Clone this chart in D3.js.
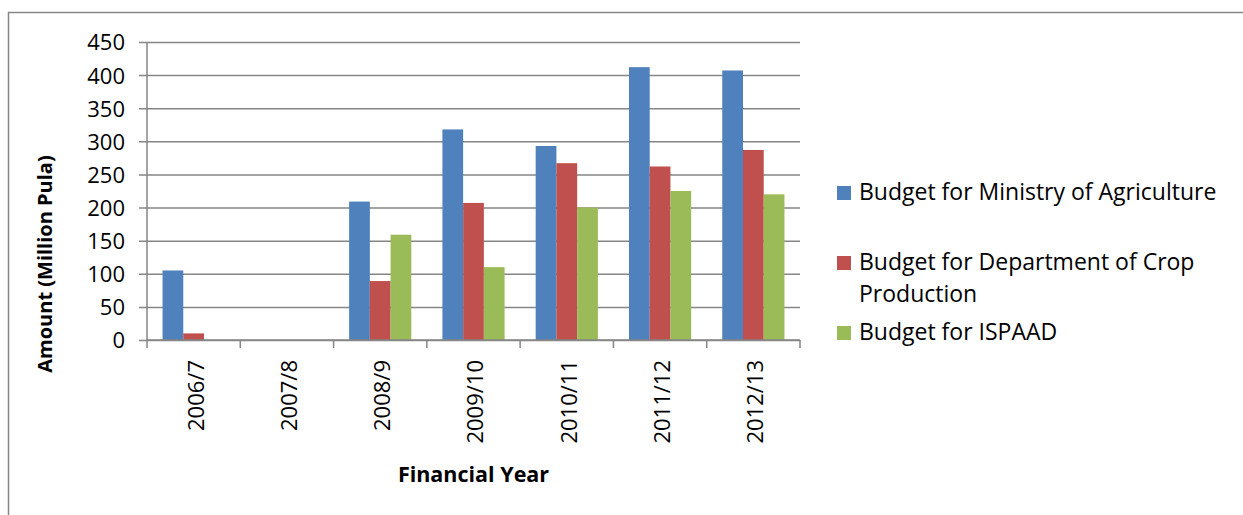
<!DOCTYPE html>
<html>
<head>
<meta charset="utf-8">
<script src="https://cdn.jsdelivr.net/npm/d3@7"></script>
<style>
  body { margin: 0; background: #fff; }
  text { font-family: "Open Sans", sans-serif; fill: #000; }
</style>
</head>
<body>
<div class="container"></div>
<script>
const years = ['2006/7', '2007/8', '2008/9', '2009/10', '2010/11', '2011/12', '2012/13'];
const seriesNames = [
    'Budget for Ministry of Agriculture',
    'Budget for Department of Crop Production',
    'Budget for ISPAAD'
];
const ministry = [105, 0, 209, 318, 293, 412, 407];
const cropProduction = [10, 0, 89, 207, 267, 262, 287];
const ispaad = [0, 0, 159, 110, 200, 225, 220];
const yTicks = [0, 50, 100, 150, 200, 250, 300, 350, 400, 450];
const colors = ['#4F81BD', '#C0504D', '#9BBB59'];

const width = 1243,
    height = 515,
    plot = { left: 147, right: 800, top: 42, bottom: 340 };

const seriesValues = [ministry, cropProduction, ispaad];
const rows = years.map((y, i) => ({ year: y, values: seriesValues.map(s => s[i]) }));

const svg = d3.select('.container')
    .append('svg')
    .attr('width', width)
    .attr('height', height);

// outer chart frame (right/bottom run off the picture)
svg.append('path')
    .attr('d', `M8.5,${height}V12.5H${width}`)
    .attr('fill', 'none')
    .attr('stroke', '#868686')
    .attr('stroke-width', 1.5);

const x = d3.scaleBand()
    .domain(years)
    .range([plot.left, plot.right]);

const bandW = x.bandwidth();
const barW = bandW / 4.5;   // Excel gap width 150%
const x1 = d3.scaleBand()
    .domain(d3.range(3))
    .range([barW * 0.75, bandW - barW * 0.75]);

const y = d3.scaleLinear()
    .domain([0, 450])
    .range([plot.bottom, plot.top]);

// gridlines + y axis
const yAxis = svg.append('g')
    .attr('transform', `translate(${plot.left},0)`)
    .call(d3.axisLeft(y).tickValues(yTicks).tickSize(8));

yAxis.select('.domain').remove();
yAxis.selectAll('.tick line')
    .attr('stroke', '#868686')
    .attr('stroke-width', 1.5)
    .attr('x1', -8)
    .attr('x2', plot.right - plot.left);
yAxis.selectAll('.tick text')
    .style('font-size', '22px')
    .attr('dy', '0.36em')
    .attr('x', -22);

svg.append('line')
    .attr('x1', plot.left).attr('x2', plot.left)
    .attr('y1', plot.top).attr('y2', plot.bottom)
    .attr('stroke', '#868686')
    .attr('stroke-width', 1.5);

// bars
const groups = svg.selectAll('.year')
    .data(rows)
    .enter()
    .append('g')
    .attr('class', 'year')
    .attr('transform', d => `translate(${x(d.year)},0)`);

groups.selectAll('rect')
    .data(d => d.values)
    .enter()
    .append('rect')
    .attr('x', (d, i) => x1(i))
    .attr('y', d => y(d))
    .attr('width', x1.bandwidth())
    .attr('height', d => y(0) - y(d))
    .attr('fill', (d, i) => colors[i]);

// x axis
const xAxis = svg.append('g')
    .attr('transform', `translate(0,${plot.bottom})`)
    .call(d3.axisBottom(x).tickSize(0).tickPadding(0));

xAxis.select('.domain')
    .attr('stroke', '#868686')
    .attr('stroke-width', 1.5)
    .attr('d', `M${plot.left},0H${plot.right}`);

xAxis.selectAll('.tick text')
    .style('font-size', '22px')
    .attr('text-anchor', 'end')
    .attr('transform', 'rotate(-90)')
    .attr('x', -20)
    .attr('y', 2)
    .attr('dy', '0.36em');

const boundaries = years.map(d => x(d)).concat([plot.right]);
xAxis.selectAll('.sep')
    .data(boundaries)
    .enter()
    .append('line')
    .attr('x1', d => d).attr('x2', d => d)
    .attr('y1', 0).attr('y2', 8)
    .attr('stroke', '#868686')
    .attr('stroke-width', 1.5);

// axis titles
svg.append('text')
    .attr('transform', 'translate(45,264) rotate(-90)')
    .attr('text-anchor', 'middle')
    .attr('dy', '0.36em')
    .style('font-size', '20px')
    .style('font-weight', 'bold')
    .text('Amount (Million Pula)');

svg.append('text')
    .attr('x', (plot.left + plot.right) / 2)
    .attr('y', 474)
    .attr('text-anchor', 'middle')
    .attr('dy', '0.36em')
    .style('font-size', '21.5px')
    .style('font-weight', 'bold')
    .text('Financial Year');

// legend
const legendItems = [
    { lines: [seriesNames[0]], y: 192 },
    { lines: ['Budget for Department of Crop', 'Production'], y: 262 },
    { lines: [seriesNames[2]], y: 332 }
];

const legend = svg.append('g').attr('id', 'legend');
const item = legend.selectAll('g')
    .data(legendItems)
    .enter()
    .append('g')
    .attr('transform', d => `translate(837,${d.y})`);

item.append('rect')
    .attr('x', 0)
    .attr('y', -6)
    .attr('width', 14)
    .attr('height', 14)
    .attr('fill', (d, i) => colors[i]);

item.append('text')
    .style('font-size', '23px')
    .selectAll('tspan')
    .data(d => d.lines)
    .enter()
    .append('tspan')
    .attr('x', 22)
    .attr('y', (d, i) => i * 31.5)
    .attr('dy', '0.36em')
    .text(d => d);
</script>
</body>
</html>
